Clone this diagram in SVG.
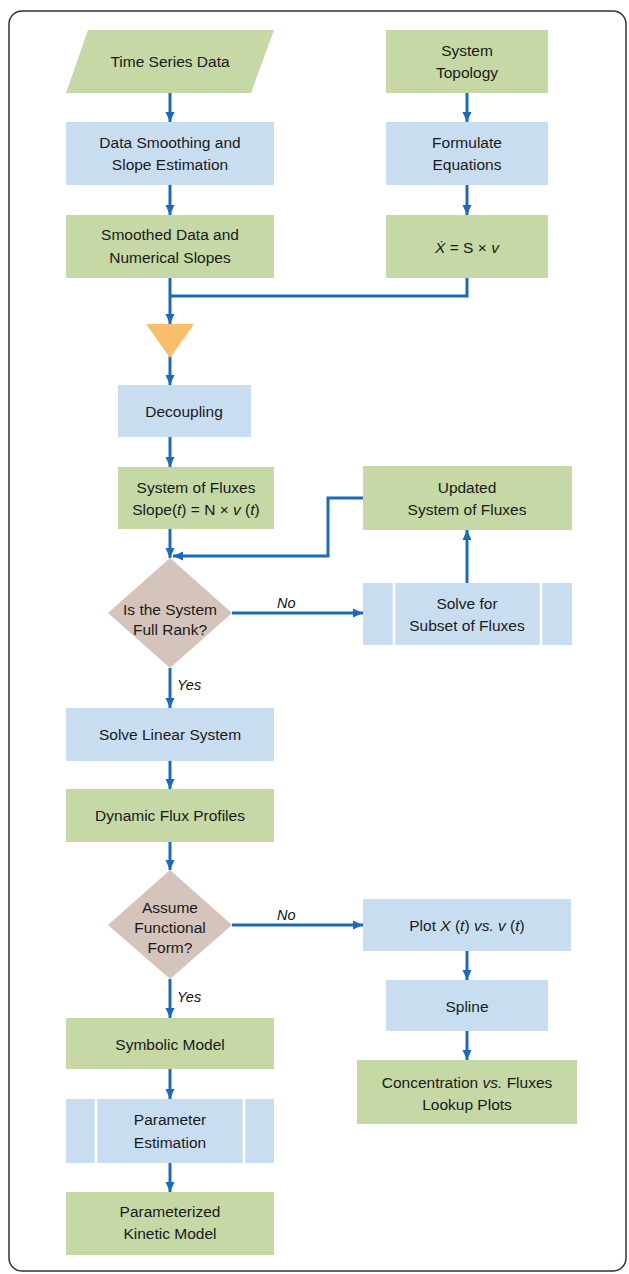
<svg xmlns="http://www.w3.org/2000/svg" width="629" height="1274" viewBox="0 0 629 1274">
<defs>
<style>
.g{fill:#C5D8A6}
.b{fill:#C9DDF1}
.d{fill:#D4C4BB}
.t{font-family:"Liberation Sans",Arial,sans-serif;font-size:15.5px;fill:#1a1a1a;text-anchor:middle}
.l{font-family:"Liberation Sans",Arial,sans-serif;font-size:14.5px;fill:#111;font-style:italic}
.i{font-style:italic}
.c{fill:none;stroke:#1D6AB7;stroke-width:3}
.sep{stroke:#fff;stroke-width:2.5}
</style>
<marker id="ah" markerUnits="userSpaceOnUse" markerWidth="10" markerHeight="10" refX="10" refY="5" orient="auto">
<path d="M0,0.5 L10,5 L0,9.5 Z" fill="#1D6AB7"/>
</marker>
</defs>
<rect x="9" y="11" width="617" height="1260" rx="13" fill="#fff" stroke="#333" stroke-width="1.5"/>

<g id="connectors">
<path class="c" d="M170,93 V122" marker-end="url(#ah)"/>
<path class="c" d="M170,185 V215" marker-end="url(#ah)"/>
<path class="c" d="M467,93 V122" marker-end="url(#ah)"/>
<path class="c" d="M467,185 V215" marker-end="url(#ah)"/>
<path class="c" d="M467,278 V296 H170"/>
<path class="c" d="M170,278 V324" marker-end="url(#ah)"/>
<path class="c" d="M170,356 V385" marker-end="url(#ah)"/>
<path class="c" d="M170,437 V467" marker-end="url(#ah)"/>
<path class="c" d="M170,529 V558" marker-end="url(#ah)"/>
<path class="c" d="M363,498 H328 V556 H173" marker-end="url(#ah)"/>
<path class="c" d="M232,613 H363" marker-end="url(#ah)"/>
<path class="c" d="M467,583 V530" marker-end="url(#ah)"/>
<path class="c" d="M170,668 V708" marker-end="url(#ah)"/>
<path class="c" d="M170,761 V789" marker-end="url(#ah)"/>
<path class="c" d="M170,842 V870" marker-end="url(#ah)"/>
<path class="c" d="M232,925 H363" marker-end="url(#ah)"/>
<path class="c" d="M467,951 V980" marker-end="url(#ah)"/>
<path class="c" d="M467,1031 V1060" marker-end="url(#ah)"/>
<path class="c" d="M170,979 V1018" marker-end="url(#ah)"/>
<path class="c" d="M170,1069 V1099" marker-end="url(#ah)"/>
<path class="c" d="M170,1163 V1192" marker-end="url(#ah)"/>
<text class="l" x="277" y="608">No</text>
<text class="l" x="177" y="690">Yes</text>
<text class="l" x="277" y="920">No</text>
<text class="l" x="177" y="1002">Yes</text>
</g>

<g id="time-series">
<polygon class="g" points="88,30 274,30 251,93 66,93"/>
<text class="t" x="170" y="67">Time Series Data</text>
</g>
<g id="data-smoothing">
<rect class="b" x="66" y="122" width="208" height="63"/>
<text class="t" x="170" y="148">Data Smoothing and</text>
<text class="t" x="170" y="170">Slope Estimation</text>
</g>
<g id="smoothed-data">
<rect class="g" x="66" y="215" width="208" height="63"/>
<text class="t" x="170" y="240">Smoothed Data and</text>
<text class="t" x="170" y="263">Numerical Slopes</text>
</g>
<g id="system-topology">
<rect class="g" x="386" y="30" width="162" height="63"/>
<text class="t" x="467" y="56">System</text>
<text class="t" x="467" y="78">Topology</text>
</g>
<g id="formulate">
<rect class="b" x="386" y="122" width="162" height="63"/>
<text class="t" x="467" y="148">Formulate</text>
<text class="t" x="467" y="170">Equations</text>
</g>
<g id="xdot">
<rect class="g" x="386" y="215" width="162" height="63"/>
<text class="t" x="467" y="253"><tspan class="i">Ẋ</tspan> = S × <tspan class="i">v</tspan></text>
</g>
<g id="merge">
<polygon points="146,324 194,324 170,358" fill="#F8BE6B"/>
</g>
<g id="decoupling">
<rect class="b" x="118" y="385" width="133" height="52"/>
<text class="t" x="184" y="417">Decoupling</text>
</g>
<g id="system-fluxes">
<rect class="g" x="118" y="467" width="156" height="62"/>
<text class="t" x="196" y="493">System of Fluxes</text>
<text class="t" x="196" y="515">Slope(<tspan class="i">t</tspan>) = N × <tspan class="i">v</tspan> (<tspan class="i">t</tspan>)</text>
</g>
<g id="full-rank">
<polygon class="d" points="170,558 232,613 170,668 108,613"/>
<text class="t" x="170" y="615">Is the System</text>
<text class="t" x="170" y="635">Full Rank?</text>
</g>
<g id="updated">
<rect class="g" x="363" y="466" width="209" height="64"/>
<text class="t" x="467" y="493">Updated</text>
<text class="t" x="467" y="515">System of Fluxes</text>
</g>
<g id="subset">
<rect class="b" x="363" y="583" width="209" height="62"/>
<line class="sep" x1="394" y1="583" x2="394" y2="645"/>
<line class="sep" x1="541" y1="583" x2="541" y2="645"/>
<text class="t" x="467" y="609">Solve for</text>
<text class="t" x="467" y="631">Subset of Fluxes</text>
</g>
<g id="solve-linear">
<rect class="b" x="66" y="708" width="208" height="53"/>
<text class="t" x="170" y="740">Solve Linear System</text>
</g>
<g id="dynamic">
<rect class="g" x="66" y="789" width="208" height="53"/>
<text class="t" x="170" y="821">Dynamic Flux Profiles</text>
</g>
<g id="functional">
<polygon class="d" points="170,870 232,925 170,979 108,925"/>
<text class="t" x="170" y="913">Assume</text>
<text class="t" x="170" y="933">Functional</text>
<text class="t" x="170" y="953">Form?</text>
</g>
<g id="plot">
<rect class="b" x="363" y="899" width="208" height="52"/>
<text class="t" x="467" y="931">Plot <tspan class="i">X</tspan> (<tspan class="i">t</tspan>) <tspan class="i">vs.</tspan> <tspan class="i">v</tspan> (<tspan class="i">t</tspan>)</text>
</g>
<g id="spline">
<rect class="b" x="386" y="980" width="162" height="51"/>
<text class="t" x="467" y="1012">Spline</text>
</g>
<g id="concentration">
<rect class="g" x="357" y="1060" width="220" height="64"/>
<text class="t" x="467" y="1088">Concentration <tspan class="i">vs.</tspan> Fluxes</text>
<text class="t" x="467" y="1110">Lookup Plots</text>
</g>
<g id="symbolic">
<rect class="g" x="66" y="1018" width="208" height="51"/>
<text class="t" x="170" y="1050">Symbolic Model</text>
</g>
<g id="parameter-estimation">
<rect class="b" x="66" y="1099" width="208" height="64"/>
<line class="sep" x1="96" y1="1099" x2="96" y2="1163"/>
<line class="sep" x1="244" y1="1099" x2="244" y2="1163"/>
<text class="t" x="170" y="1125">Parameter</text>
<text class="t" x="170" y="1148">Estimation</text>
</g>
<g id="parameterized">
<rect class="g" x="66" y="1192" width="208" height="63"/>
<text class="t" x="170" y="1217">Parameterized</text>
<text class="t" x="170" y="1239">Kinetic Model</text>
</g>
</svg>
